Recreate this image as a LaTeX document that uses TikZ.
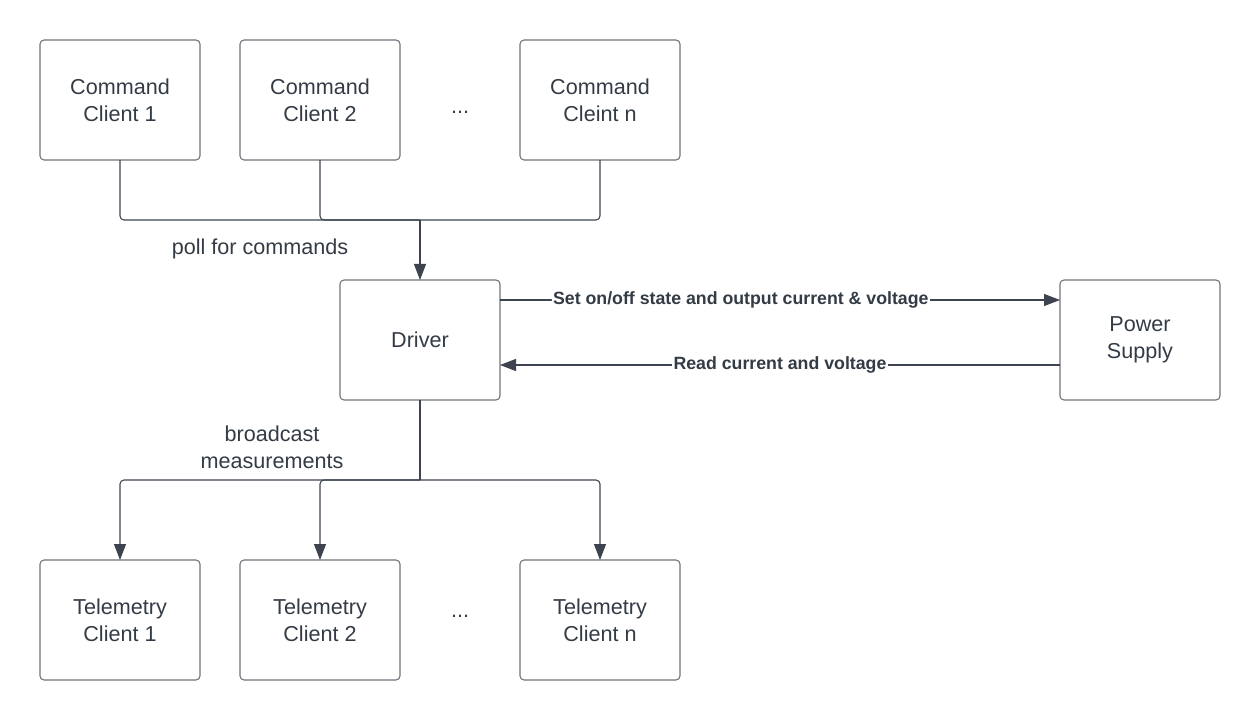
\documentclass[tikz,border=0pt]{standalone}
\usepackage{fontspec}
\setmainfont{Liberation Sans}
\usetikzlibrary{arrows.meta,positioning,calc}

\definecolor{boxline}{HTML}{6E737A}
\definecolor{wire}{HTML}{3D4450}
\definecolor{ink}{HTML}{333B45}

\begin{document}
\begin{tikzpicture}[
    x=0.75pt, y=-0.75pt,
    font=\fontsize{16.2}{20.3}\selectfont,
    text=ink,
    node distance=30pt and 30pt,
    box/.style={
        draw=boxline,
        rounded corners=3pt,
        minimum width=120pt,
        minimum height=90pt,
        outer sep=0pt,
        align=center,
        line width=0.8pt
    },
    link/.style={draw=wire, line width=0.8pt, rounded corners=3pt},
    arr/.style={link, -{Triangle[length=12pt, width=9pt]}},
    tag/.style={font=\bfseries\fontsize{13.3}{16}\selectfont, fill=white, inner sep=1pt}
]
    \useasboundingbox (0,0) rectangle (1260,720);

    %% Command clients
    \node[box] (cmd1) at (120,100) {Command\\Client 1};
    \node[box, right=of cmd1] (cmd2) {Command\\Client 2};
    \node[box, right=90pt of cmd2] (cmdn) {Command\\Cleint n};
    \node at (460,112) (cmddots) {...};

    %% Driver and power supply
    \node[box] (drv) at (420,340) {Driver};
    \node[box, right=420pt of drv] (ps) {Power\\Supply};

    %% Telemetry clients
    \node[box] (tel1) at (120,620) {Telemetry\\Client 1};
    \node[box, right=of tel1] (tel2) {Telemetry\\Client 2};
    \node[box, right=90pt of tel2] (teln) {Telemetry\\Client n};
    \node at (460,616) (teldots) {...};

    %% Sammelpunkte
    \coordinate (jtop) at (420,220);
    \coordinate (jbot) at (420,480);

    %% Commands to driver
    \draw[link] (cmd1.south) |- (jtop);
    \draw[link] (cmd2.south) |- (jtop);
    \draw[link] (cmdn.south) |- (jtop);
    \draw[arr] (jtop) -- (drv.north);
    \node at (260,249) (poll) {poll for commands};

    %% Driver to telemetry
    \draw[link] (drv.south) -- (jbot);
    \draw[arr] (jbot) -| (tel1.north);
    \draw[arr] (jbot) -| (tel2.north);
    \draw[arr] (jbot) -| (teln.north);
    \node[align=center] at (272,447) (bcast) {broadcast\\measurements};

    %% Driver <-> power supply
    \draw[arr] ([yshift=30pt]drv.east) -- node[tag, pos=0.43] {Set on/off state and output current \& voltage} ([yshift=30pt]drv.east -| ps.west);
    \draw[arr] ([yshift=-18.75pt]ps.west) -- node[tag] {Read current and voltage} ([yshift=-18.75pt]ps.west -| drv.east);
\end{tikzpicture}
\end{document}
